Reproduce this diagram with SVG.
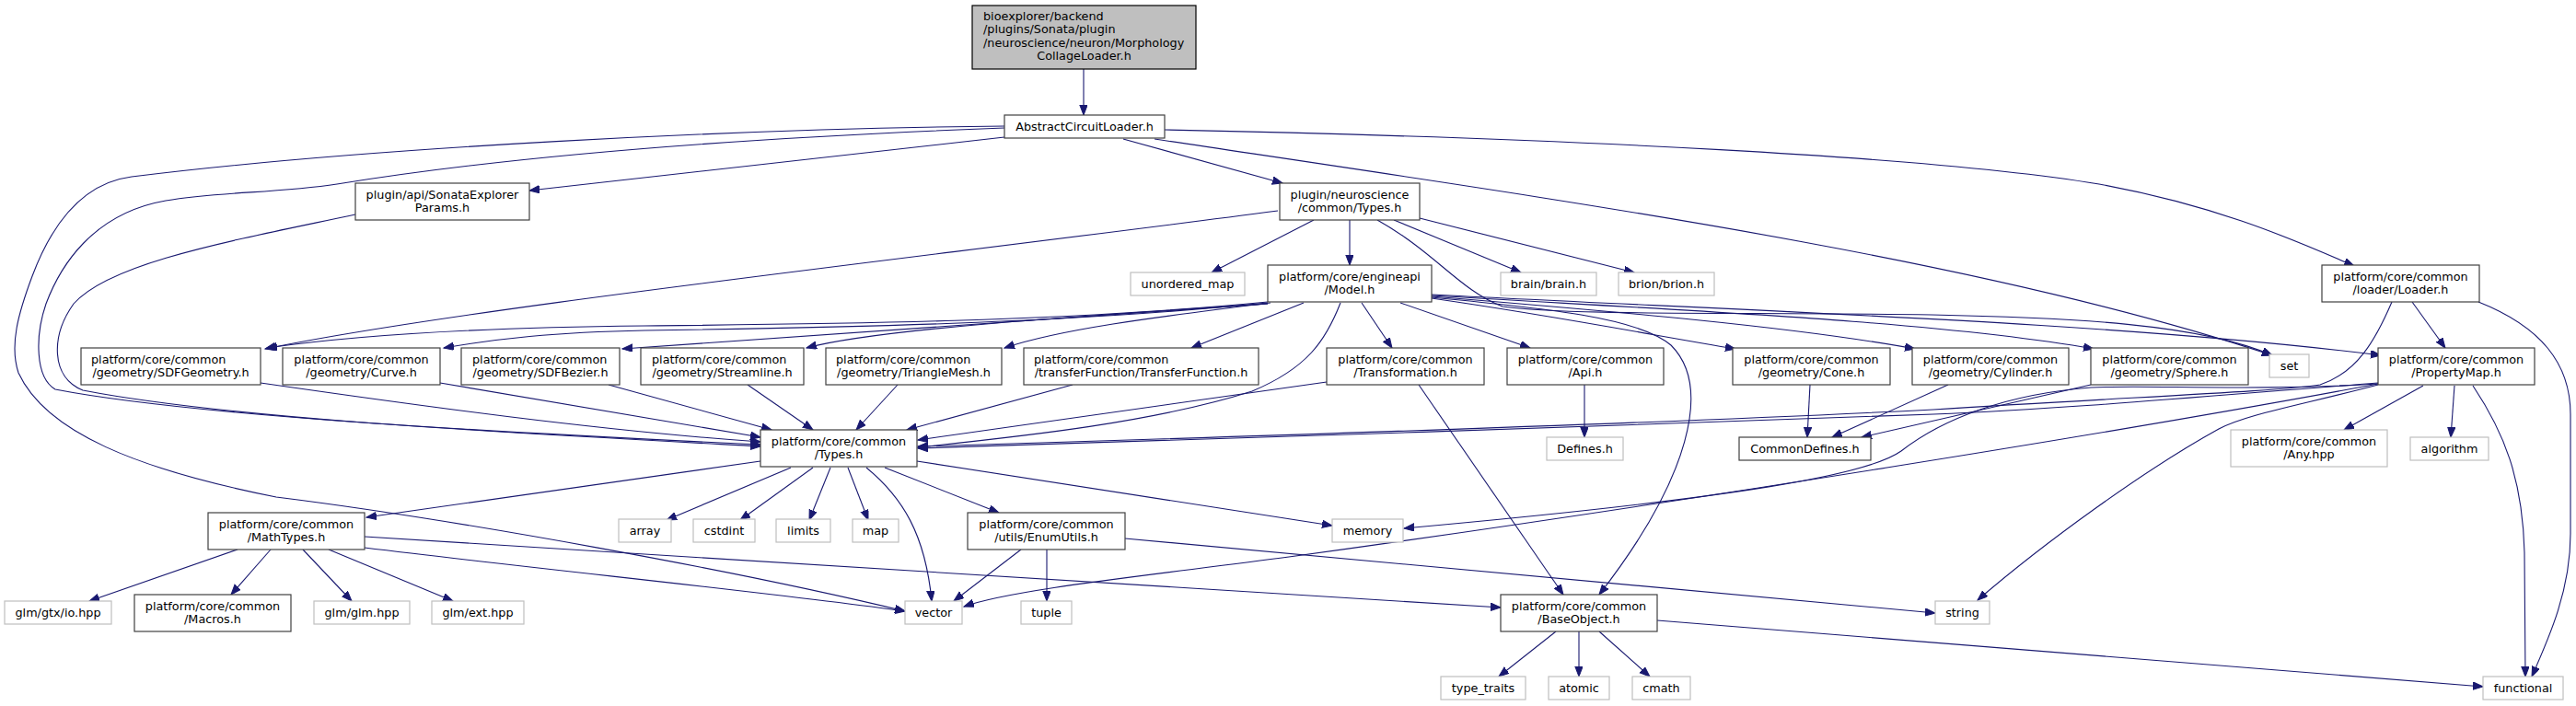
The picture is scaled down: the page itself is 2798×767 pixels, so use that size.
<svg xmlns="http://www.w3.org/2000/svg" width="2798" height="767" viewBox="0 0 2798 767">
<style>
text{font-family:"DejaVu Sans","Liberation Sans",sans-serif;font-size:12.8px;fill:#000}
.m{text-anchor:middle}
.n rect{fill:#fff;stroke:#404040;stroke-width:1.2}
.g rect{fill:#fff;stroke:#bfbfbf;stroke-width:1.2}
.r rect{fill:#bfbfbf;stroke:#000;stroke-width:1.2}
#edges path{fill:none;stroke:#191970;stroke-width:1.1;marker-end:url(#ah)}
</style>
<defs>
<marker id="ah" markerUnits="userSpaceOnUse" markerWidth="13" markerHeight="10" refX="11" refY="4.2" orient="auto">
<path d="M0,0 L11,4.2 L0,8.4 z" fill="#191970" stroke="#191970" stroke-width="1"/>
</marker>
</defs>
<rect width="2798" height="767" fill="#fff"/>
<g id="edges">
<path d="M1177,75 L1177,125"/>
<path d="M1091,149 L575,207"/>
<path d="M1220,151 L1393,199"/>
<path d="M1265,141 C1700,150 2100,170 2280,200 C2400,222 2480,255 2557,289"/>
<path d="M1254,151 C1700,218 2150,280 2468,386"/>
<path d="M1091,139 C800,150 550,170 366,200 C300,210 240,208 180,218 C100,232 65,290 50,330 C38,365 38,410 60,423 C200,450 500,468 826,483"/>
<path d="M1091,137 C800,140 400,160 143,192 C80,200 50,260 35,300 C20,340 10,375 20,405 C50,470 150,510 300,540 C500,565 800,620 983,664"/>
<path d="M386,233 C250,262 120,285 80,330 C55,365 55,410 90,424 C250,455 550,470 826,485"/>
<path d="M1388,229 C1000,280 500,335 288,379"/>
<path d="M1427,239 L1316,296"/>
<path d="M1466,239 L1466,288"/>
<path d="M1514,239 L1652,296"/>
<path d="M1542,237 L1775,296"/>
<path d="M1496,239 C1560,275 1585,315 1632,333 C1700,343 1900,339 2098,342 C2250,345 2390,352 2468,386"/>
<path d="M1377,328 C1150,350 900,352 700,354 C500,356 380,365 290,378"/>
<path d="M1377,329 C1150,352 900,356 700,359 C600,361 540,368 482,378"/>
<path d="M1377,330 C1100,350 850,365 676,379"/>
<path d="M1377,330 C1150,345 950,358 876,378"/>
<path d="M1380,329 C1250,345 1150,358 1091,378"/>
<path d="M1416,329 L1294,378"/>
<path d="M1456,329 C1440,370 1420,400 1360,425 C1250,460 1100,475 997,486"/>
<path d="M1479,329 L1512,378"/>
<path d="M1521,329 L1662,378"/>
<path d="M1555,324 C1700,345 1800,365 1885,379"/>
<path d="M1555,322 C1750,338 1950,355 2080,379"/>
<path d="M1555,321 C1800,336 2100,348 2274,379"/>
<path d="M1555,320 C1900,338 2300,350 2586,386"/>
<path d="M1555,323 C1680,335 1780,345 1815,375 C1860,420 1835,520 1737,646"/>
<path d="M2620,328 L2656,378"/>
<path d="M2692,328 C2760,355 2792,395 2792,450 L2792,580 C2792,640 2770,690 2750,735"/>
<path d="M2598,328 C2580,370 2560,405 2520,418 C2480,425 2300,432 2100,445 C1800,460 1300,476 997,485"/>
<path d="M2583,416 C2400,430 2250,444 2100,450 C1800,462 1300,477 997,487"/>
<path d="M2583,417 C2450,425 2330,418 2271,421 C2180,428 2110,455 2065,490 C2030,515 1900,540 1525,574"/>
<path d="M2583,418 C2500,440 2440,450 2410,466 C2330,510 2220,590 2148,652"/>
<path d="M2583,417 C2300,470 1800,550 1400,605 C1250,625 1100,640 1047,659"/>
<path d="M2632,419 L2546,467"/>
<path d="M2666,419 L2662,475"/>
<path d="M2686,419 C2720,470 2740,520 2742,600 L2743,735"/>
<path d="M826,501 L398,562"/>
<path d="M859,508 L724,565"/>
<path d="M883,508 L804,565"/>
<path d="M902,508 L879,565"/>
<path d="M921,508 L943,565"/>
<path d="M941,508 C980,540 1005,580 1012,653"/>
<path d="M961,508 L1085,557"/>
<path d="M996,501 L1447,571"/>
<path d="M1109,597 L1036,653"/>
<path d="M1137,597 L1137,653"/>
<path d="M1222,585 L2102,666"/>
<path d="M258,597 L97,653"/>
<path d="M294,597 L251,646"/>
<path d="M329,597 L382,653"/>
<path d="M357,597 L492,653"/>
<path d="M396,595 C600,620 850,645 983,664"/>
<path d="M396,583 L1630,660"/>
<path d="M1441,415 L997,478"/>
<path d="M1541,418 L1698,646"/>
<path d="M1721,418 L1721,475"/>
<path d="M1966,418 L1963,475"/>
<path d="M2116,418 L1990,475"/>
<path d="M2271,418 L2022,475"/>
<path d="M1165,418 L985,467"/>
<path d="M975,418 L930,467"/>
<path d="M812,418 L883,467"/>
<path d="M661,418 L838,467"/>
<path d="M478,416 L826,475"/>
<path d="M283,416 C450,440 650,468 826,480"/>
<path d="M1690,686 L1628,735"/>
<path d="M1715,686 L1715,735"/>
<path d="M1737,686 L1792,735"/>
<path d="M1800,674 L2697,746"/>
</g>
<g id="n_top" class="r"><rect x="1056" y="6" width="243" height="69"/>
<text x="1068" y="21.5">bioexplorer/backend</text><text x="1068" y="36">/plugins/Sonata/plugin</text><text x="1068" y="50.5">/neuroscience/neuron/Morphology</text><text class="m" x="1177.5" y="65">CollageLoader.h</text></g>
<g id="n_acl" class="n"><rect x="1091" y="125" width="174" height="25"/><text class="m" x="1178" y="142">AbstractCircuitLoader.h</text></g>
<g id="n_sep" class="n"><rect x="386" y="199" width="189" height="40"/><text class="m" x="480.5" y="215.5">plugin/api/SonataExplorer</text><text class="m" x="480.5" y="230">Params.h</text></g>
<g id="n_nt" class="n"><rect x="1390" y="199" width="152" height="40"/><text class="m" x="1466" y="215.5">plugin/neuroscience</text><text class="m" x="1466" y="230">/common/Types.h</text></g>
<g id="n_loader" class="n"><rect x="2522" y="288" width="171" height="40"/><text class="m" x="2607.5" y="304.5">platform/core/common</text><text class="m" x="2607.5" y="319">/loader/Loader.h</text></g>
<g id="n_umap" class="g"><rect x="1228" y="296" width="124" height="25"/><text class="m" x="1290" y="313">unordered_map</text></g>
<g id="n_model" class="n"><rect x="1377" y="288" width="178" height="40"/><text class="m" x="1466" y="304.5">platform/core/engineapi</text><text class="m" x="1466" y="319">/Model.h</text></g>
<g id="n_brain" class="g"><rect x="1630" y="296" width="104" height="25"/><text class="m" x="1682" y="313">brain/brain.h</text></g>
<g id="n_brion" class="g"><rect x="1758" y="296" width="104" height="25"/><text class="m" x="1810" y="313">brion/brion.h</text></g>
<g id="n_sdfg" class="n"><rect x="88" y="378" width="195" height="40"/><text x="99" y="394.5">platform/core/common</text><text class="m" x="185.5" y="409">/geometry/SDFGeometry.h</text></g>
<g id="n_curve" class="n"><rect x="307" y="378" width="171" height="40"/><text class="m" x="392.5" y="394.5">platform/core/common</text><text class="m" x="392.5" y="409">/geometry/Curve.h</text></g>
<g id="n_sdfb" class="n"><rect x="501" y="378" width="172" height="40"/><text x="513" y="394.5">platform/core/common</text><text class="m" x="587" y="409">/geometry/SDFBezier.h</text></g>
<g id="n_stream" class="n"><rect x="696" y="378" width="177" height="40"/><text x="708" y="394.5">platform/core/common</text><text class="m" x="784.5" y="409">/geometry/Streamline.h</text></g>
<g id="n_tri" class="n"><rect x="897" y="378" width="191" height="40"/><text x="908" y="394.5">platform/core/common</text><text class="m" x="992.5" y="409">/geometry/TriangleMesh.h</text></g>
<g id="n_tf" class="n"><rect x="1112" y="378" width="255" height="40"/><text x="1123" y="394.5">platform/core/common</text><text class="m" x="1239.5" y="409">/transferFunction/TransferFunction.h</text></g>
<g id="n_transf" class="n"><rect x="1441" y="378" width="171" height="40"/><text class="m" x="1526.5" y="394.5">platform/core/common</text><text class="m" x="1526.5" y="409">/Transformation.h</text></g>
<g id="n_api" class="n"><rect x="1637" y="378" width="170" height="40"/><text class="m" x="1722" y="394.5">platform/core/common</text><text class="m" x="1722" y="409">/Api.h</text></g>
<g id="n_cone" class="n"><rect x="1882" y="378" width="171" height="40"/><text class="m" x="1967.5" y="394.5">platform/core/common</text><text class="m" x="1967.5" y="409">/geometry/Cone.h</text></g>
<g id="n_cyl" class="n"><rect x="2077" y="378" width="170" height="40"/><text class="m" x="2162" y="394.5">platform/core/common</text><text class="m" x="2162" y="409">/geometry/Cylinder.h</text></g>
<g id="n_sphere" class="n"><rect x="2271" y="378" width="171" height="40"/><text class="m" x="2356.5" y="394.5">platform/core/common</text><text class="m" x="2356.5" y="409">/geometry/Sphere.h</text></g>
<g id="n_set" class="g"><rect x="2465" y="385" width="43" height="25"/><text class="m" x="2486.5" y="402">set</text></g>
<g id="n_pmap" class="n"><rect x="2583" y="378" width="170" height="40"/><text class="m" x="2668" y="394.5">platform/core/common</text><text class="m" x="2668" y="409">/PropertyMap.h</text></g>
<g id="n_types" class="n"><rect x="826" y="467" width="170" height="40"/><text class="m" x="911" y="483.5">platform/core/common</text><text class="m" x="911" y="498">/Types.h</text></g>
<g id="n_defines" class="g"><rect x="1680" y="475" width="83" height="25"/><text class="m" x="1721.5" y="492">Defines.h</text></g>
<g id="n_cdef" class="n"><rect x="1889" y="475" width="143" height="25"/><text class="m" x="1960.5" y="492">CommonDefines.h</text></g>
<g id="n_any" class="g"><rect x="2423" y="467" width="170" height="40"/><text class="m" x="2508" y="483.5">platform/core/common</text><text class="m" x="2508" y="498">/Any.hpp</text></g>
<g id="n_algo" class="g"><rect x="2618" y="475" width="85" height="25"/><text class="m" x="2660.5" y="492">algorithm</text></g>
<g id="n_array" class="g"><rect x="672" y="564" width="57" height="25"/><text class="m" x="700.5" y="581">array</text></g>
<g id="n_cstdint" class="g"><rect x="753" y="564" width="67" height="25"/><text class="m" x="786.5" y="581">cstdint</text></g>
<g id="n_limits" class="g"><rect x="843" y="564" width="59" height="25"/><text class="m" x="872.5" y="581">limits</text></g>
<g id="n_map" class="g"><rect x="926" y="564" width="50" height="25"/><text class="m" x="951" y="581">map</text></g>
<g id="n_enum" class="n"><rect x="1051" y="557" width="171" height="40"/><text class="m" x="1136.5" y="573.5">platform/core/common</text><text class="m" x="1136.5" y="588">/utils/EnumUtils.h</text></g>
<g id="n_math" class="n"><rect x="226" y="557" width="170" height="40"/><text class="m" x="311" y="573.5">platform/core/common</text><text class="m" x="311" y="588">/MathTypes.h</text></g>
<g id="n_memory" class="g"><rect x="1447" y="564" width="77" height="25"/><text class="m" x="1485.5" y="581">memory</text></g>
<g id="n_glmio" class="g"><rect x="5" y="653" width="116" height="25"/><text class="m" x="63" y="670">glm/gtx/io.hpp</text></g>
<g id="n_macros" class="n"><rect x="146" y="646" width="170" height="40"/><text class="m" x="231" y="662.5">platform/core/common</text><text class="m" x="231" y="677">/Macros.h</text></g>
<g id="n_glm" class="g"><rect x="341" y="653" width="104" height="25"/><text class="m" x="393" y="670">glm/glm.hpp</text></g>
<g id="n_ext" class="g"><rect x="469" y="653" width="100" height="25"/><text class="m" x="519" y="670">glm/ext.hpp</text></g>
<g id="n_vector" class="g"><rect x="983" y="653" width="62" height="25"/><text class="m" x="1014" y="670">vector</text></g>
<g id="n_tuple" class="g"><rect x="1109" y="653" width="55" height="25"/><text class="m" x="1136.5" y="670">tuple</text></g>
<g id="n_base" class="n"><rect x="1630" y="646" width="170" height="40"/><text class="m" x="1715" y="662.5">platform/core/common</text><text class="m" x="1715" y="677">/BaseObject.h</text></g>
<g id="n_string" class="g"><rect x="2102" y="653" width="59" height="25"/><text class="m" x="2131.5" y="670">string</text></g>
<g id="n_tt" class="g"><rect x="1565" y="735" width="92" height="25"/><text class="m" x="1611" y="752">type_traits</text></g>
<g id="n_atomic" class="g"><rect x="1682" y="735" width="66" height="25"/><text class="m" x="1715" y="752">atomic</text></g>
<g id="n_cmath" class="g"><rect x="1773" y="735" width="63" height="25"/><text class="m" x="1804.5" y="752">cmath</text></g>
<g id="n_func" class="g"><rect x="2697" y="735" width="87" height="25"/><text class="m" x="2740.5" y="752">functional</text></g>
</svg>
